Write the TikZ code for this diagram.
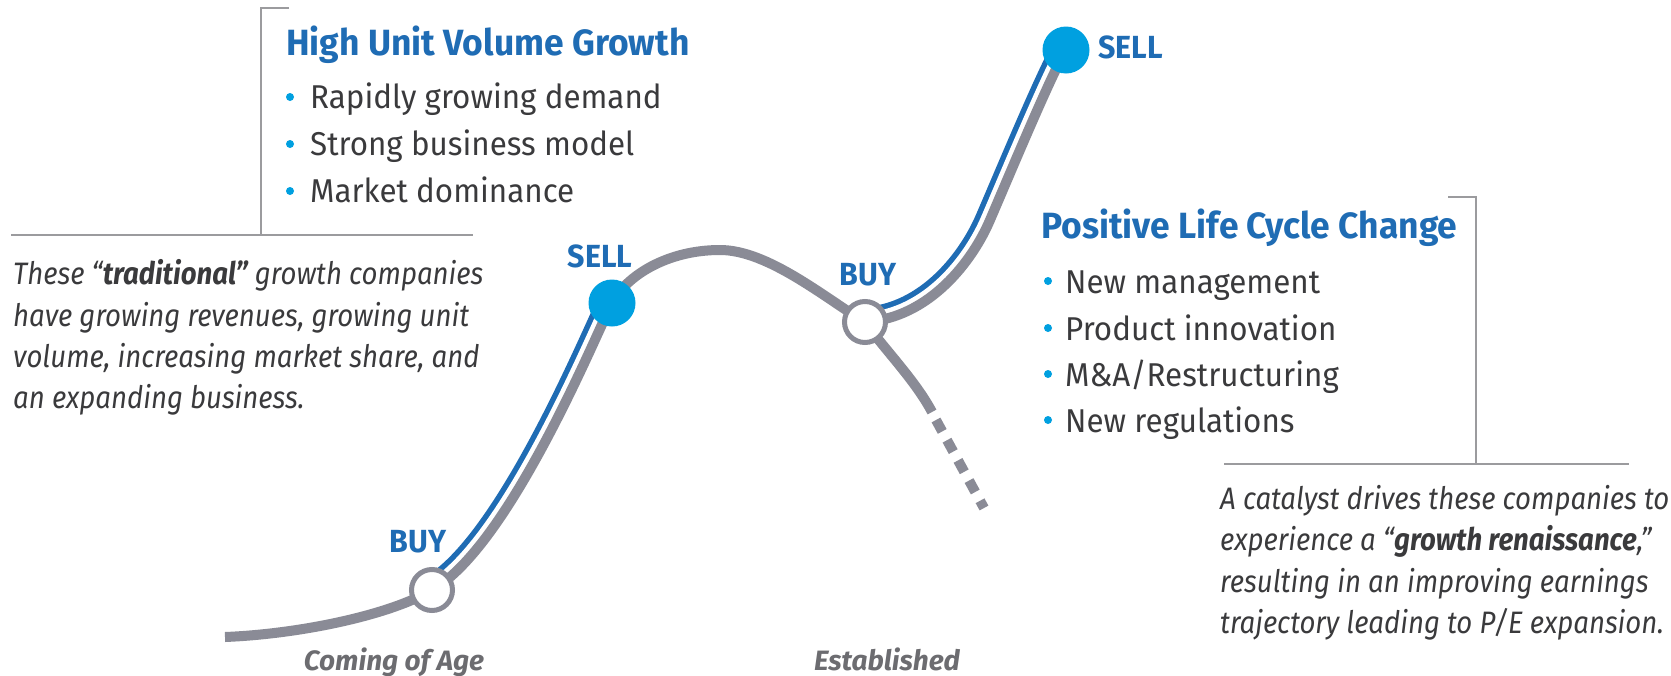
\documentclass[tikz,border=0pt]{standalone}
\usepackage{fontspec}
\newfontfamily\cf[FakeStretch=0.95]{Fira Sans}
\newfontfamily\cfp[FakeStretch=0.89]{Fira Sans}
\newfontfamily\cft[FakeStretch=0.97]{Fira Sans}
\newfontfamily\cfs[FakeStretch=1.0]{Fira Sans}
\definecolor{tblue}{RGB}{31,108,180}
\definecolor{lblue}{RGB}{0,160,224}
\definecolor{cgray}{RGB}{138,139,150}
\definecolor{tgray}{RGB}{58,58,60}
\definecolor{sgray}{RGB}{108,108,112}
\definecolor{lgray}{RGB}{155,155,158}
\pgfdeclarelayer{bg}
\pgfsetlayers{bg,main}
\begin{document}
\begin{tikzpicture}[x=1pt,y=-1pt,
  gline/.style={line width=10pt, draw=cgray},
  bline/.style={line width=2pt, draw=lgray},
  buyc/.style={circle, draw=cgray, line width=5pt, fill=white, minimum size=41pt, inner sep=0pt},
  sellc/.style={circle, fill=lblue, minimum size=47pt, inner sep=0pt},
  titletxt/.style={font=\cft\bfseries\fontsize{36.5}{40}\selectfont, text=tblue, anchor=base west, inner sep=0pt},
  itemtxt/.style={font=\cf\fontsize{33}{38}\selectfont, text=tgray, anchor=base west, inner sep=0pt},
  paratxt/.style={font=\cfp\itshape\fontsize{31}{36}\selectfont, text=tgray, anchor=base west, inner sep=0pt},
  acttxt/.style={font=\cf\bfseries\fontsize{32}{36}\selectfont, text=tblue, anchor=base, inner sep=0pt},
  stagetxt/.style={font=\cfs\bfseries\itshape\fontsize{28}{30}\selectfont, text=sgray, anchor=base, inner sep=0pt},
  bdot/.style={circle, fill=lblue, minimum size=8pt, inner sep=0pt}]
\useasboundingbox (0,0) rectangle (1671,675);

% circles
\node[buyc] (buy1) at (432,590) {};
\node[sellc] (sell1) at (612,303) {};
\node[buyc] (buy2) at (865,322) {};
\node[sellc] (sell2) at (1066,50) {};
\coordinate (st) at (225,637);
\coordinate (pk) at (720,250);
\coordinate (m2) at (990,220);
\coordinate (dn) at (932,412);
\coordinate (ds) at (936,420);
\coordinate (de) at (984,508);

\begin{pgfonlayer}{bg}
  \fill[white] (0,0) rectangle (1671,675);
  % blue accompanying lines (offset band on the upper-left side)
  \begin{scope}
    \clip (buy1.center) .. controls (510,546) and (597,332) .. (sell1.center) -- (612,230) -- (370,230) -- (370,590) -- cycle;
    \draw[line width=30pt, tblue] (buy1.center) .. controls (510,546) and (597,332) .. (sell1.center);
    \draw[line width=19pt, white] (buy1.center) .. controls (510,546) and (597,332) .. (sell1.center);
  \end{scope}
  \begin{scope}
    \clip (buy2.center) .. controls (930,318) and (973,260) .. (m2) .. controls (1009,176) and (1051,75) .. (sell2.center) -- (1066,10) -- (830,10) -- (830,322) -- cycle;
    \draw[line width=30pt, tblue] (buy2.center) .. controls (930,318) and (973,260) .. (m2) .. controls (1009,176) and (1051,75) .. (sell2.center);
    \draw[line width=19pt, white] (buy2.center) .. controls (930,318) and (973,260) .. (m2) .. controls (1009,176) and (1051,75) .. (sell2.center);
  \end{scope}
  % grey life-cycle curve
  \draw[gline] (st) .. controls (300,634) and (390,615) .. (buy1.center)
     .. controls (510,546) and (597,332) .. (sell1.center)
     .. controls (627,275) and (668,250) .. (pk)
     .. controls (768,250) and (825,298) .. (buy2.center);
  \draw[gline] (buy2.center) .. controls (930,318) and (973,260) .. (m2) .. controls (1009,176) and (1051,75) .. (sell2.center);
  \draw[gline] (buy2.center) .. controls (885,350) and (915,380) .. (dn);
  \draw[gline, dash pattern=on 13pt off 10pt] (ds) -- (de);
\end{pgfonlayer}

% action labels
\node[acttxt] (lbuy1) at (418,552) {BUY};
\node[acttxt] (lsell1) at (600,267) {SELL};
\node[acttxt] (lbuy2) at (868,285) {BUY};
\node[acttxt, anchor=base west] (lsell2) at (1098,58) {SELL};

% stage labels
\node[stagetxt] (coa) at (394,670) {Coming of Age};
\node[stagetxt] (est) at (887,670) {Established};

% bracket lines
\draw[bline] (289,8) -- (261,8) -- (261,235);
\draw[bline] (11,235) -- (473,235);
\draw[bline] (1448,197) -- (1476,197) -- (1476,464);
\draw[bline] (1224,464) -- (1629,464);

% top-left box
\node[titletxt] (t1) at (286,55) {High Unit Volume Growth};
\node[bdot] (d11) at (290,97) {};
\node[itemtxt] (i11) at (310,108) {Rapidly growing demand};
\node[bdot] (d12) at (290,144) {};
\node[itemtxt] (i12) at (310,155) {Strong business model};
\node[bdot] (d13) at (290,191) {};
\node[itemtxt] (i13) at (310,202) {Market dominance};

% left paragraph
\node[paratxt] (p11) at (13,284) {These “\textbf{traditional”} growth companies};
\node[paratxt] (p12) at (13,326) {have growing revenues, growing unit};
\node[paratxt] (p13) at (13,367) {volume, increasing market share, and};
\node[paratxt] (p14) at (13,408) {an expanding business.};

% right box
\node[titletxt] (t2) at (1041,238) {Positive Life Cycle Change};
\node[bdot] (d21) at (1048,281) {};
\node[itemtxt] (i21) at (1065,293) {New management};
\node[bdot] (d22) at (1048,328) {};
\node[itemtxt] (i22) at (1065,340) {Product innovation};
\node[bdot] (d23) at (1048,374) {};
\node[itemtxt] (i23) at (1065,386) {M\&A/Restructuring};
\node[bdot] (d24) at (1048,420) {};
\node[itemtxt] (i24) at (1065,432) {New regulations};

% right paragraph
\node[paratxt] (p21) at (1220,509) {A catalyst drives these companies to};
\node[paratxt] (p22) at (1220,550) {experience a “\textbf{growth renaissance},”};
\node[paratxt] (p23) at (1220,592) {resulting in an improving earnings};
\node[paratxt] (p24) at (1220,633) {trajectory leading to P/E expansion.};
\end{tikzpicture}
\end{document}
